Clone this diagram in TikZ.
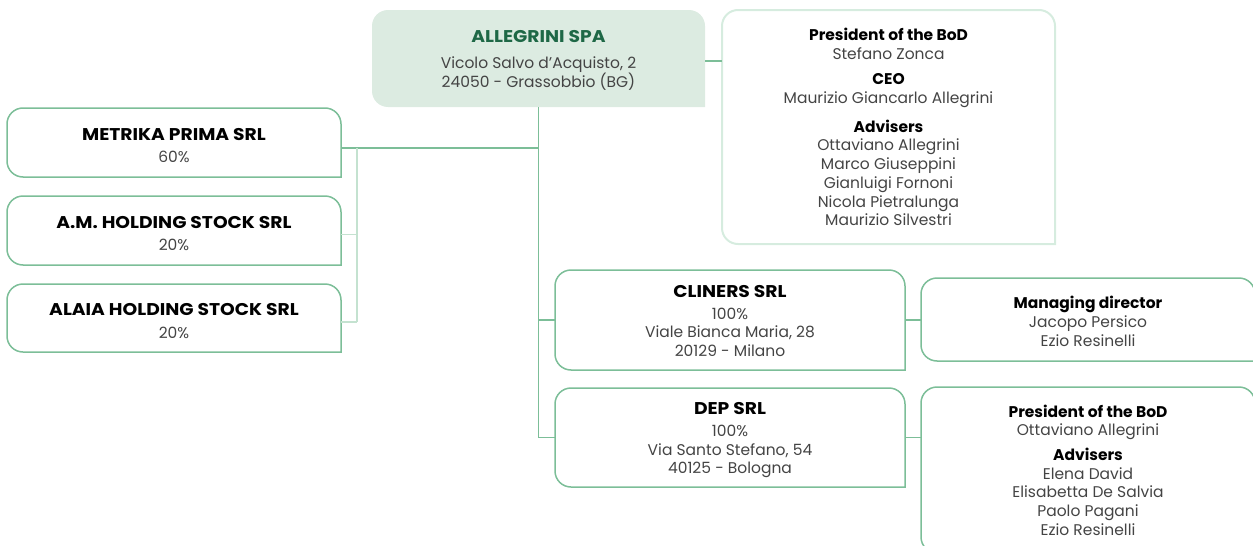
\documentclass[tikz,border=0pt]{standalone}
\usepackage{fontspec}
\setmainfont{Poppins}
\newfontfamily\firmfont{Poppins}[FakeStretch=1.1]
\usetikzlibrary{positioning,backgrounds}
\definecolor{leaf}{RGB}{124,190,152}
\definecolor{mint}{RGB}{220,235,225}
\definecolor{pale}{RGB}{196,226,208}
\definecolor{mist}{RGB}{214,236,223}
\definecolor{forest}{RGB}{30,104,70}
\definecolor{ink}{RGB}{68,68,68}
\newcommand\firmtitle[2][black]{{\firmfont\bfseries\fontsize{17}{18.7}\selectfont\color{#1}#2}}
\newcommand\roletitle[1]{{\bfseries\fontsize{15.5}{18.7}\selectfont\color{black}#1}}
\newcommand\lift[1]{\rule{0pt}{#1}}

\begin{document}
\begin{tikzpicture}[
  x=1pt, y=-1pt,
  font=\fontsize{15.5}{18.7}\selectfont, text=ink,
  card/.style={inner sep=0pt, outer sep=0pt, align=center,
               minimum width=334pt, minimum height=69pt},
  frame/.style={draw=leaf, line width=1.5pt, rounded corners=16pt, line cap=rect},
  link/.style={draw=leaf, line width=1.2pt},
]
\useasboundingbox (0,0) rectangle (1253,546);
\clip (0,0) rectangle (1253,546);

% ---------- Parent company and board ----------
\node[card, minimum width=333pt, minimum height=97pt, anchor=north west] (top) at (372,10)
  {\lift{16pt}\firmtitle[forest]{ALLEGRINI SPA}\\[7pt] Vicolo Salvo d'Acquisto, 2\\ 24050 - Grassobbio (BG)};
\node[card, minimum width=333pt, minimum height=234pt, right=17pt of top.north east, anchor=north west] (board)
  {\roletitle{President of the BoD}\\ Stefano Zonca\\[7pt]
   \roletitle{CEO}\\ Maurizio Giancarlo Allegrini\\[10pt]
   \roletitle{Advisers}\\ Ottaviano Allegrini\\ Marco Giuseppini\\ Gianluigi Fornoni\\ Nicola Pietralunga\\ Maurizio Silvestri};

% ---------- Shareholders (left) ----------
\node[card, anchor=north west] (metrika) at (7,108) {\lift{18pt}\firmtitle{METRIKA PRIMA SRL}\\[3pt] 60\%};
\node[card, below=19pt of metrika] (amh) {\lift{18pt}\firmtitle{A.M. HOLDING STOCK SRL}\\[3.5pt] 20\%};
\node[card, below=19pt of amh, minimum height=68pt] (alaia) {\lift{18pt}\firmtitle{ALAIA HOLDING STOCK SRL}\\[4pt] 20\%};

% ---------- Subsidiaries (right) ----------
\node[card, minimum width=350pt, minimum height=100pt, anchor=north west] (cliners) at (555,270)
  {\lift{14pt}\firmtitle{CLINERS SRL}\\[3pt] 100\%\\ Viale Bianca Maria, 28\\ 20129 - Milano};
\node[card, minimum width=350pt, minimum height=99pt, below=18pt of cliners] (dep)
  {\lift{18pt}\firmtitle{DEP SRL}\\[3pt] 100\%\\ Via Santo Stefano, 54\\ 40125 - Bologna};
\node[card, minimum height=83pt, anchor=north west] (mgr) at (921,278)
  {\lift{16.5pt}\roletitle{Managing director}\\ Jacopo Persico\\ Ezio Resinelli};
\node[card, minimum height=166pt, anchor=north west] (depb) at (921,387)
  {\roletitle{President of the BoD}\\ Ottaviano Allegrini\\[6pt]
   \roletitle{Advisers}\\ Elena David\\ Elisabetta De Salvia\\ Paolo Pagani\\ Ezio Resinelli};

% frames: bottom right corner stays square
\begin{scope}[on background layer]
  \fill[mint, rounded corners=16pt] (top.south east) -- (top.south west) -- (top.north west) -- (top.north east) -- (top.south east);
  \draw[frame, draw=mist, line width=2pt] (board.south east) -- (board.south west) -- (board.north west) -- (board.north east) -- (board.south east);
\end{scope}
\foreach \n in {metrika,amh,alaia,cliners,dep,mgr,depb}
  \draw[frame] (\n.south east) -- (\n.south west) -- (\n.north west) -- (\n.north east) -- (\n.south east);

% ---------- Connectors ----------
\draw[link] ([yshift=-2.5pt]top.east) -- ([yshift=-2.5pt]top.east -| board.west);
\draw[link] (top.south) -- (top.south |- dep.west) -- (dep.west);
\draw[link] (top.south |- cliners.west) -- (cliners.west);
\draw[link] (cliners.east) -- (mgr.west |- cliners.east);
\draw[link] (dep.east) -- (depb.west |- dep.east);
% shareholder bus
\coordinate (mj) at ([yshift=-5.5pt]metrika.east);
\coordinate (bus) at ([xshift=16pt]mj);
\coordinate (aj) at ([yshift=-4pt]alaia.east);
\draw[link] (mj) -- (mj -| top.south);
\draw[link, draw=pale] (bus) -- (bus |- aj);
\foreach \n in {amh,alaia} \draw[link, draw=pale] ([yshift=-4pt]\n.east) -- ++(16pt,0);

\end{tikzpicture}
\end{document}
